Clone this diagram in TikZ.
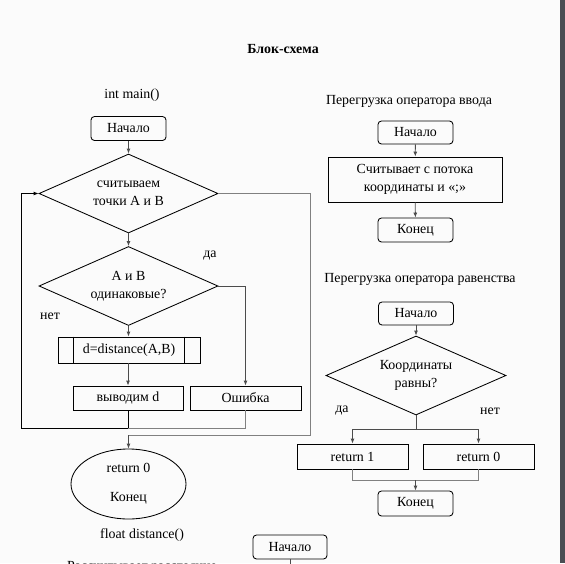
\documentclass[tikz,border=0pt]{standalone}
\usepackage{fontspec}
\setmainfont{Liberation Serif}
\usetikzlibrary{shapes.geometric,arrows.meta,calc}
\definecolor{bgcol}{HTML}{FBFBFB}
\definecolor{barcol}{HTML}{4A4E53}
\begin{document}
\begin{tikzpicture}[x=1pt,y=-1pt,
  font=\fontsize{13.9}{18}\selectfont,
  box/.style={draw, line width=0.85pt, inner sep=0pt, align=center},
  term/.style={box, rounded corners=3.5pt, minimum width=75pt, minimum height=24pt},
  dia/.style={draw, line width=0.85pt, diamond, shape aspect=2.27, inner sep=0pt, minimum width=179pt, minimum height=79pt, align=center},
  conn/.style={line width=0.85pt, draw=black!70},
  gconn/.style={line width=0.85pt, draw=black!50},
  arr/.style={conn, -{Latex[length=5pt,width=4pt]}},
  lbl/.style={inner sep=0pt}]
\fill[bgcol] (0,0) rectangle (565,563);
\useasboundingbox (0,0) rectangle (565,563);
\clip (0,0) rectangle (565,563);
\fill[barcol] (560,0) rectangle (565,563);

\node[lbl, font=\fontsize{13.9}{18}\selectfont\bfseries] (title) at (283,49) {Блок-схема};

% main
\node[lbl] (tm) at (132,95) {int main()};
\node[term] (s1) at (128.5,128.5) {Начало};
\node[dia] (d1) at (128.5,193.5) {считываем\\точки A и B};
\node[dia] (d2) at (128.5,286) {A и B\\одинаковые?};
\node[box, minimum width=142pt, minimum height=26pt] (p) at (129,350) {d=distance(A,B)};
\draw[line width=0.85pt] ($(p.north west)+(16,0)$) -- ($(p.south west)+(16,0)$);
\draw[line width=0.85pt] ($(p.north east)+(-16,0)$) -- ($(p.south east)+(-16,0)$);
\node[box, minimum width=110pt, minimum height=24pt] (o) at (128,398) {выводим d};
\node[box, minimum width=111pt, minimum height=24pt] (er) at (245.5,398) {Ошибка};
\node[draw, line width=0.85pt, ellipse, minimum width=115pt, minimum height=70pt, inner sep=0pt, align=center] (e) at (128.5,484) {return 0\\[11pt]Конец};
\node[lbl] (da1) at (210,256) {да};
\node[lbl] (net1) at (50,316) {нет};

\coordinate (r1c) at (310,435);
\coordinate (j1) at (128.5,435);
\coordinate (l1) at (128,428);
\coordinate (l2) at (21,428);

\draw[arr] (s1) -- (d1);
\draw[arr] (d1) -- (d2);
\draw[arr] (d2.east) -| (er.north);
\draw[arr] (d2.south) -- (d2.south |- p.north);
\draw[arr] (p.south -| o.north) -- (o.north);
\draw[arr, draw=black] (o.south) -- (l1) -- (l2) |- (d1.west);
\draw[gconn] (er.south) |- (l1);
\draw[gconn] (d1.east) -| (r1c) -- (j1);
\draw[arr] (j1) -- (e.north);

% input overload
\node[lbl] (t2) at (409,101) {Перегрузка оператора ввода};
\node[term, minimum height=23pt] (n2) at (415.5,132.5) {Начало};
\node[box, minimum width=174pt, minimum height=45pt] (r2) at (415,179.5) {Считывает с потока\\координаты и «;»};
\node[term] (k2) at (415.5,230) {Конец};
\draw[arr] (n2) -- (r2);
\draw[arr] (r2) -- (k2);

% equality overload
\node[lbl] (t3) at (420,279) {Перегрузка оператора равенства};
\node[term, minimum height=23pt] (n3) at (416,313.5) {Начало};
\node[dia, minimum width=180pt] (d3) at (416,375.5) {Координаты\\равны?};
\node[lbl] (da2) at (342,411) {да};
\node[lbl] (net2) at (490,411) {нет};
\coordinate (j3) at (416,429);
\node[box, minimum width=111pt, minimum height=25pt] (rt1) at (352.5,456.5) {return 1};
\node[box, minimum width=111pt, minimum height=25pt] (rt0) at (478.5,456.5) {return 0};
\coordinate (j4) at (415.5,480);
\node[term, minimum height=25pt] (k3) at (415.5,503.5) {Конец};
\draw[arr] (n3) -- (d3);
\draw[conn] (d3.south) -- (j3);
\draw[arr] (j3) -| (rt1.north);
\draw[arr] (j3) -| (rt0.north);
\draw[gconn] (rt1.south) |- (j4);
\draw[gconn] (rt0.south) |- (j4);
\draw[arr] (j4) -- (k3.north);

% bottom
\node[lbl] (fd) at (142,535) {float distance()};
\node[lbl] (rr) at (142,567) {Рассчитывает расстояние};
\node[term, minimum width=74pt, minimum height=24pt] (n4) at (290,547) {Начало};
\coordinate (c4) at (290,575);
\draw[conn] (n4.south) -- (c4);
\end{tikzpicture}
\end{document}
